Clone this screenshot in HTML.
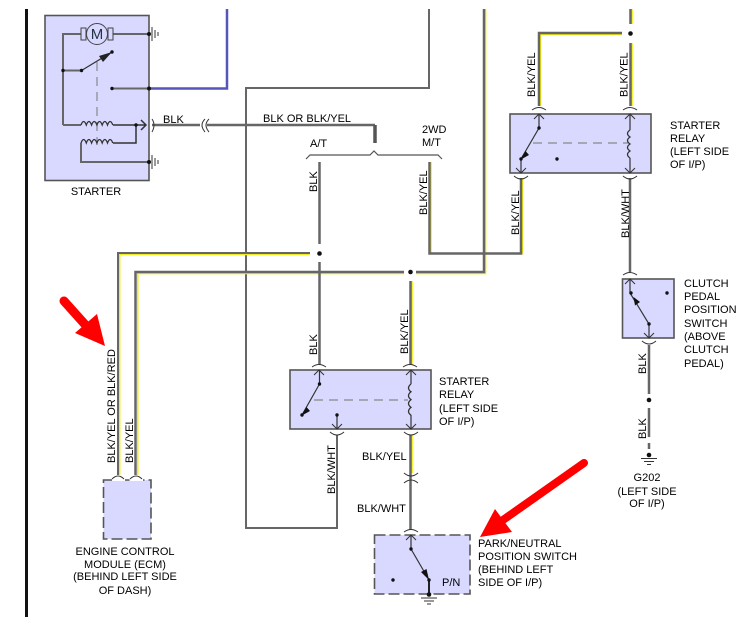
<!DOCTYPE html>
<html><head><meta charset="utf-8"><style>
html,body{margin:0;padding:0;background:#fff;width:741px;height:617px;overflow:hidden}
svg{display:block}
text{font-family:"Liberation Sans",Arial,sans-serif;font-size:11px;fill:#000}
.g{fill:none;stroke:#666;stroke-width:2.5}
.t{fill:none;stroke:#666;stroke-width:2}
.y{fill:none;stroke:#f4f000;stroke-width:1.6}
.p{fill:none;stroke:#f0ec20;stroke-width:1.5}
.k{fill:none;stroke:#333;stroke-width:1}
.c{fill:none;stroke:#333;stroke-width:1.3}
.b{fill:#d9d9ff;stroke:#555;stroke-width:1.6}
.d{fill:#d9d9ff;stroke:#555;stroke-width:1.6;stroke-dasharray:11 4}
.h{fill:none;stroke:#888;stroke-width:1.2;stroke-dasharray:9 6}
.n{fill:#111}
</style></head><body>
<svg width="741" height="617" viewBox="0 0 741 617" xmlns="http://www.w3.org/2000/svg">
<rect x="25" y="9" width="3" height="608" fill="#111"/>

<!-- boxes -->
<rect class="b" x="45" y="15.5" width="104" height="165"/>
<rect class="b" x="510" y="114" width="141" height="59"/>
<rect class="b" x="290" y="370" width="141" height="59"/>
<rect class="b" x="622.5" y="279" width="51.5" height="59"/>
<rect class="d" x="374.5" y="535" width="95.5" height="59"/>
<rect class="d" x="103.5" y="480" width="47.5" height="59"/>

<!-- thin grey loop -->
<path class="t" d="M429 9V88H246V528H337V435"/>

<!-- yellow offsets -->
<path class="y" d="M485.500 9V273.500H416"/>
<path class="p" d="M404 273.500H137.800V475"/>
<path class="p" d="M310 254.500H119.700V475"/>
<path class="y" d="M431 162V253.500H522.500V178"/>
<path class="y" d="M540.500 106V34.500H622"/>
<path class="y" d="M632 9V24M632 43V106"/>
<path class="y" d="M412 281V365M412 435V473"/>
<path class="g" d="M484 9V272H416"/>
<path class="g" d="M404 272H135.500V475"/>
<path class="t" d="M310 253H118V475"/>
<path class="g" d="M429.500 162V253.500H521V178"/>
<path class="g" d="M539 106V33H622"/>
<path class="g" d="M630.500 9V24M630.500 43V106"/>
<path class="g" d="M410.500 281V365M410.500 435V530"/>
<path class="g" d="M319.500 162V244M319.500 262V365"/>
<path class="g" d="M630 178V272"/>
<path class="g" d="M649 345V394M649 408V437M649 443V449"/>

<!-- Starter wires -->
<path d="M149 88.500H227V9" fill="none" stroke="#5555bb" stroke-width="2.500"/>
<path class="t" d="M113 88.500H149M63 125V34H81M113 34H149"/>
<path class="g" d="M152 125H200M207 125H375"/>
<path d="M375 125V143" stroke="#555" stroke-width="3.500" fill="none"/>
<path class="t" d="M63 125H81M63 70.500H81.500"/>
<path class="k" style="stroke-width:1.300" d="M81.500 70.500L112 52"/>
<path class="k" style="stroke-width:1.500" d="M113 125H146M141 120L146 125L141 130M113 143H136V125"/>
<path class="t" d="M81 143V162H149"/>
<path class="h" d="M97 62V145"/>
<path class="c" d="M81 125q2.600-7 5.300 0q2.600-7 5.300 0q2.600-7 5.300 0q2.600-7 5.300 0q2.600-7 5.300 0q2.600-7 5.300 0M81 143q2.600-7 5.300 0q2.600-7 5.300 0q2.600-7 5.300 0q2.600-7 5.300 0q2.600-7 5.300 0q2.600-7 5.300 0"/>
<path d="M112 52L99 56L103 62Z" fill="#222"/>
<!-- motor -->
<rect x="81" y="28" width="5" height="12" fill="#d9d9ff" stroke="#444"/>
<rect x="108" y="28" width="5" height="12" fill="#d9d9ff" stroke="#444"/>
<circle cx="97" cy="34" r="10.500" fill="#d9d9ff" stroke="#444"/>
<text x="97" y="39" text-anchor="middle" style="font-size:15px;fill:#234">M</text>
<circle class="n" cx="149" cy="34" r="2"/><circle class="n" cx="149" cy="88.500" r="2"/><circle class="n" cx="149" cy="162" r="2"/>
<circle class="n" cx="63" cy="70.500" r="1.700"/><circle class="n" cx="81.500" cy="70.500" r="1.700"/><circle class="n" cx="112" cy="52" r="1.700"/><circle class="n" cx="112" cy="88.500" r="1.700"/><circle class="n" cx="136" cy="125" r="1.700"/>
<path class="k" d="M152 27v14M155 30v8M158 32v4M152 155v14M155 158v8M158 160v4"/>
<path class="k" d="M152 119q4 6 0 13M205 119q-6 6 0 13M209 119q-6 6 0 13"/>

<!-- brace -->
<path style="fill:none;stroke:#555;stroke-width:1.200" d="M306 159L310 155H370L374 151L378 155H438L442 159"/>

<!-- junction dots -->
<circle class="n" cx="319.500" cy="253.500" r="2.300"/><circle class="n" cx="410.500" cy="272" r="2.300"/><circle class="n" cx="630.500" cy="33.500" r="2.300"/>
<circle class="n" cx="649" cy="400" r="2.300"/><circle class="n" cx="649" cy="455" r="2.300"/>
<path class="k" d="M641 458.500H657M644 461.500H654M647 464.500H651"/>

<!-- connector arcs + chevrons -->
<path class="k" d="M532 110q7-5 14 0M623 110q7-5 14 0"/>
<path class="k" d="M514 176q7 6 14 0M623 176q7 6 14 0"/>
<path class="k" d="M534 119L539 114L544 119M625 119L630 114L635 119M516 168L521 173L526 168M625 168L630 173L635 168"/>
<path class="k" d="M312 367q7-5 14 0M403 367q7-5 14 0M330 432q7 6 14 0M404 432q7 6 14 0M404 473q7 6 14 0M404 483q7-6 14 0M404 532q7-5 14 0"/>
<path class="k" d="M314 375L319 370L324 375M406 375L411 370L416 375M332 424L337 429L342 424M406 424L411 429L416 424M406 540L411 535L416 540"/>
<path class="k" d="M623 275q7-5 14 0M642 341q7 6 14 0M625 284L630 279L635 284M644 333L649 338L654 333"/>
<path d="M112 480h13M130 480h13" stroke="#fff" stroke-width="2" fill="none"/>
<path class="k" d="M112 479q6-6 12 0M130 479q6-6 12 0"/>

<!-- relay 1 internals -->
<path class="k" style="stroke-width:1.200" d="M539 115V128L521 159V173M630 114V130M630 158V173"/>
<path d="M525.500 151L520 160L529 155Z" fill="#111"/>
<path class="h" d="M533 143H628"/>
<path class="c" d="M630 130q-5 3.500 0 7q-5 3.500 0 7q-5 3.500 0 7q-5 3.500 0 7"/>
<circle class="n" cx="539" cy="128" r="1.700"/><circle class="n" cx="521" cy="159" r="1.700"/><circle class="n" cx="557" cy="159" r="1.700"/>

<!-- relay 2 internals -->
<path class="k" style="stroke-width:1.200" d="M319.500 370V384L302 415M337 415V429M411 370V384M411 415V429"/>
<path d="M306.500 407L301 416L310 411Z" fill="#111"/>
<path class="h" d="M314 400H408"/>
<path class="c" d="M411 384q-5 4 0 7.800q-5 4 0 7.800q-5 4 0 7.800q-5 4 0 7.800"/>
<circle class="n" cx="319.500" cy="384" r="1.700"/><circle class="n" cx="302" cy="415" r="1.700"/><circle class="n" cx="337" cy="415" r="1.700"/>

<!-- clutch internals -->
<path class="k" style="stroke-width:1.200" d="M630 279V293L649 324V338"/>
<path d="M633.500 297L640 302L635 305.500Z" fill="#111"/>
<circle class="n" cx="631" cy="293" r="1.700"/><circle class="n" cx="649" cy="324" r="1.700"/><circle class="n" cx="667" cy="293" r="1.700"/>

<!-- P/N internals -->
<path class="k" style="stroke-width:1.200" d="M411 535V549L429 580"/>
<path d="M429 580L421 572L426.500 569Z" fill="#111"/>
<path d="M429 580V594" stroke="#222" stroke-width="2" fill="none"/>
<circle class="n" cx="411" cy="549" r="1.700"/><circle class="n" cx="429" cy="580" r="1.700"/><circle class="n" cx="393" cy="580" r="1.700"/><circle class="n" cx="429" cy="594.500" r="2.300"/>
<path class="k" d="M421 598H437M424 601H434M427 604H431"/>

<!-- red arrows -->
<path d="M64 301L90 330" stroke="#f00" stroke-width="9" stroke-linecap="round" fill="none"/>
<path d="M105 346L75 333L97 314Z" fill="#f00"/>
<path d="M503 520L584 463" stroke="#f00" stroke-width="8" stroke-linecap="round" fill="none"/>
<path d="M480 537L495 509L512 532Z" fill="#f00"/>

<!-- text -->
<text x="96" y="195" text-anchor="middle">STARTER</text>
<text x="163" y="123">BLK</text>
<text x="263" y="122">BLK OR BLK/YEL</text>
<text x="310" y="147">A/T</text>
<text x="422" y="133">2WD</text>
<text x="422" y="146">M/T</text>
<text x="670" y="129">STARTER</text><text x="670" y="142">RELAY</text><text x="670" y="155">(LEFT SIDE</text><text x="670" y="168">OF I/P)</text>
<text x="439" y="385">STARTER</text><text x="439" y="398">RELAY</text><text x="439" y="412">(LEFT SIDE</text><text x="439" y="425">OF I/P)</text>
<text x="684" y="287">CLUTCH</text><text x="684" y="300">PEDAL</text><text x="684" y="313">POSITION</text><text x="684" y="327">SWITCH</text><text x="684" y="340">(ABOVE</text><text x="684" y="353">CLUTCH</text><text x="684" y="367">PEDAL)</text>
<text x="647" y="481" text-anchor="middle">G202</text><text x="647" y="495" text-anchor="middle">(LEFT SIDE</text><text x="647" y="507" text-anchor="middle">OF I/P)</text>
<text x="125" y="555" text-anchor="middle">ENGINE CONTROL</text><text x="125" y="568" text-anchor="middle">MODULE (ECM)</text><text x="125" y="580" text-anchor="middle">(BEHIND LEFT SIDE</text><text x="125" y="594" text-anchor="middle">OF DASH)</text>
<text x="478" y="547">PARK/NEUTRAL</text><text x="478" y="560">POSITION SWITCH</text><text x="478" y="573">(BEHIND LEFT</text><text x="478" y="586">SIDE OF I/P)</text>
<text x="442" y="586">P/N</text>
<text x="362" y="460">BLK/YEL</text>
<text x="357" y="512">BLK/WHT</text>
<text transform="translate(535,97) rotate(-90)">BLK/YEL</text>
<text transform="translate(627.500,97) rotate(-90)">BLK/YEL</text>
<text transform="translate(317,192) rotate(-90)">BLK</text>
<text transform="translate(427,215) rotate(-90)">BLK/YEL</text>
<text transform="translate(519,235) rotate(-90)">BLK/YEL</text>
<text transform="translate(629,238) rotate(-90)">BLK/WHT</text>
<text transform="translate(317,355) rotate(-90)">BLK</text>
<text transform="translate(408,354) rotate(-90)">BLK/YEL</text>
<text transform="translate(335,494) rotate(-90)">BLK/WHT</text>
<text transform="translate(115,463) rotate(-90)">BLK/YEL OR BLK/RED</text>
<text transform="translate(133,463) rotate(-90)">BLK/YEL</text>
<text transform="translate(646,374) rotate(-90)">BLK</text>
<text transform="translate(646,439) rotate(-90)">BLK</text>
</svg>
</body></html>
